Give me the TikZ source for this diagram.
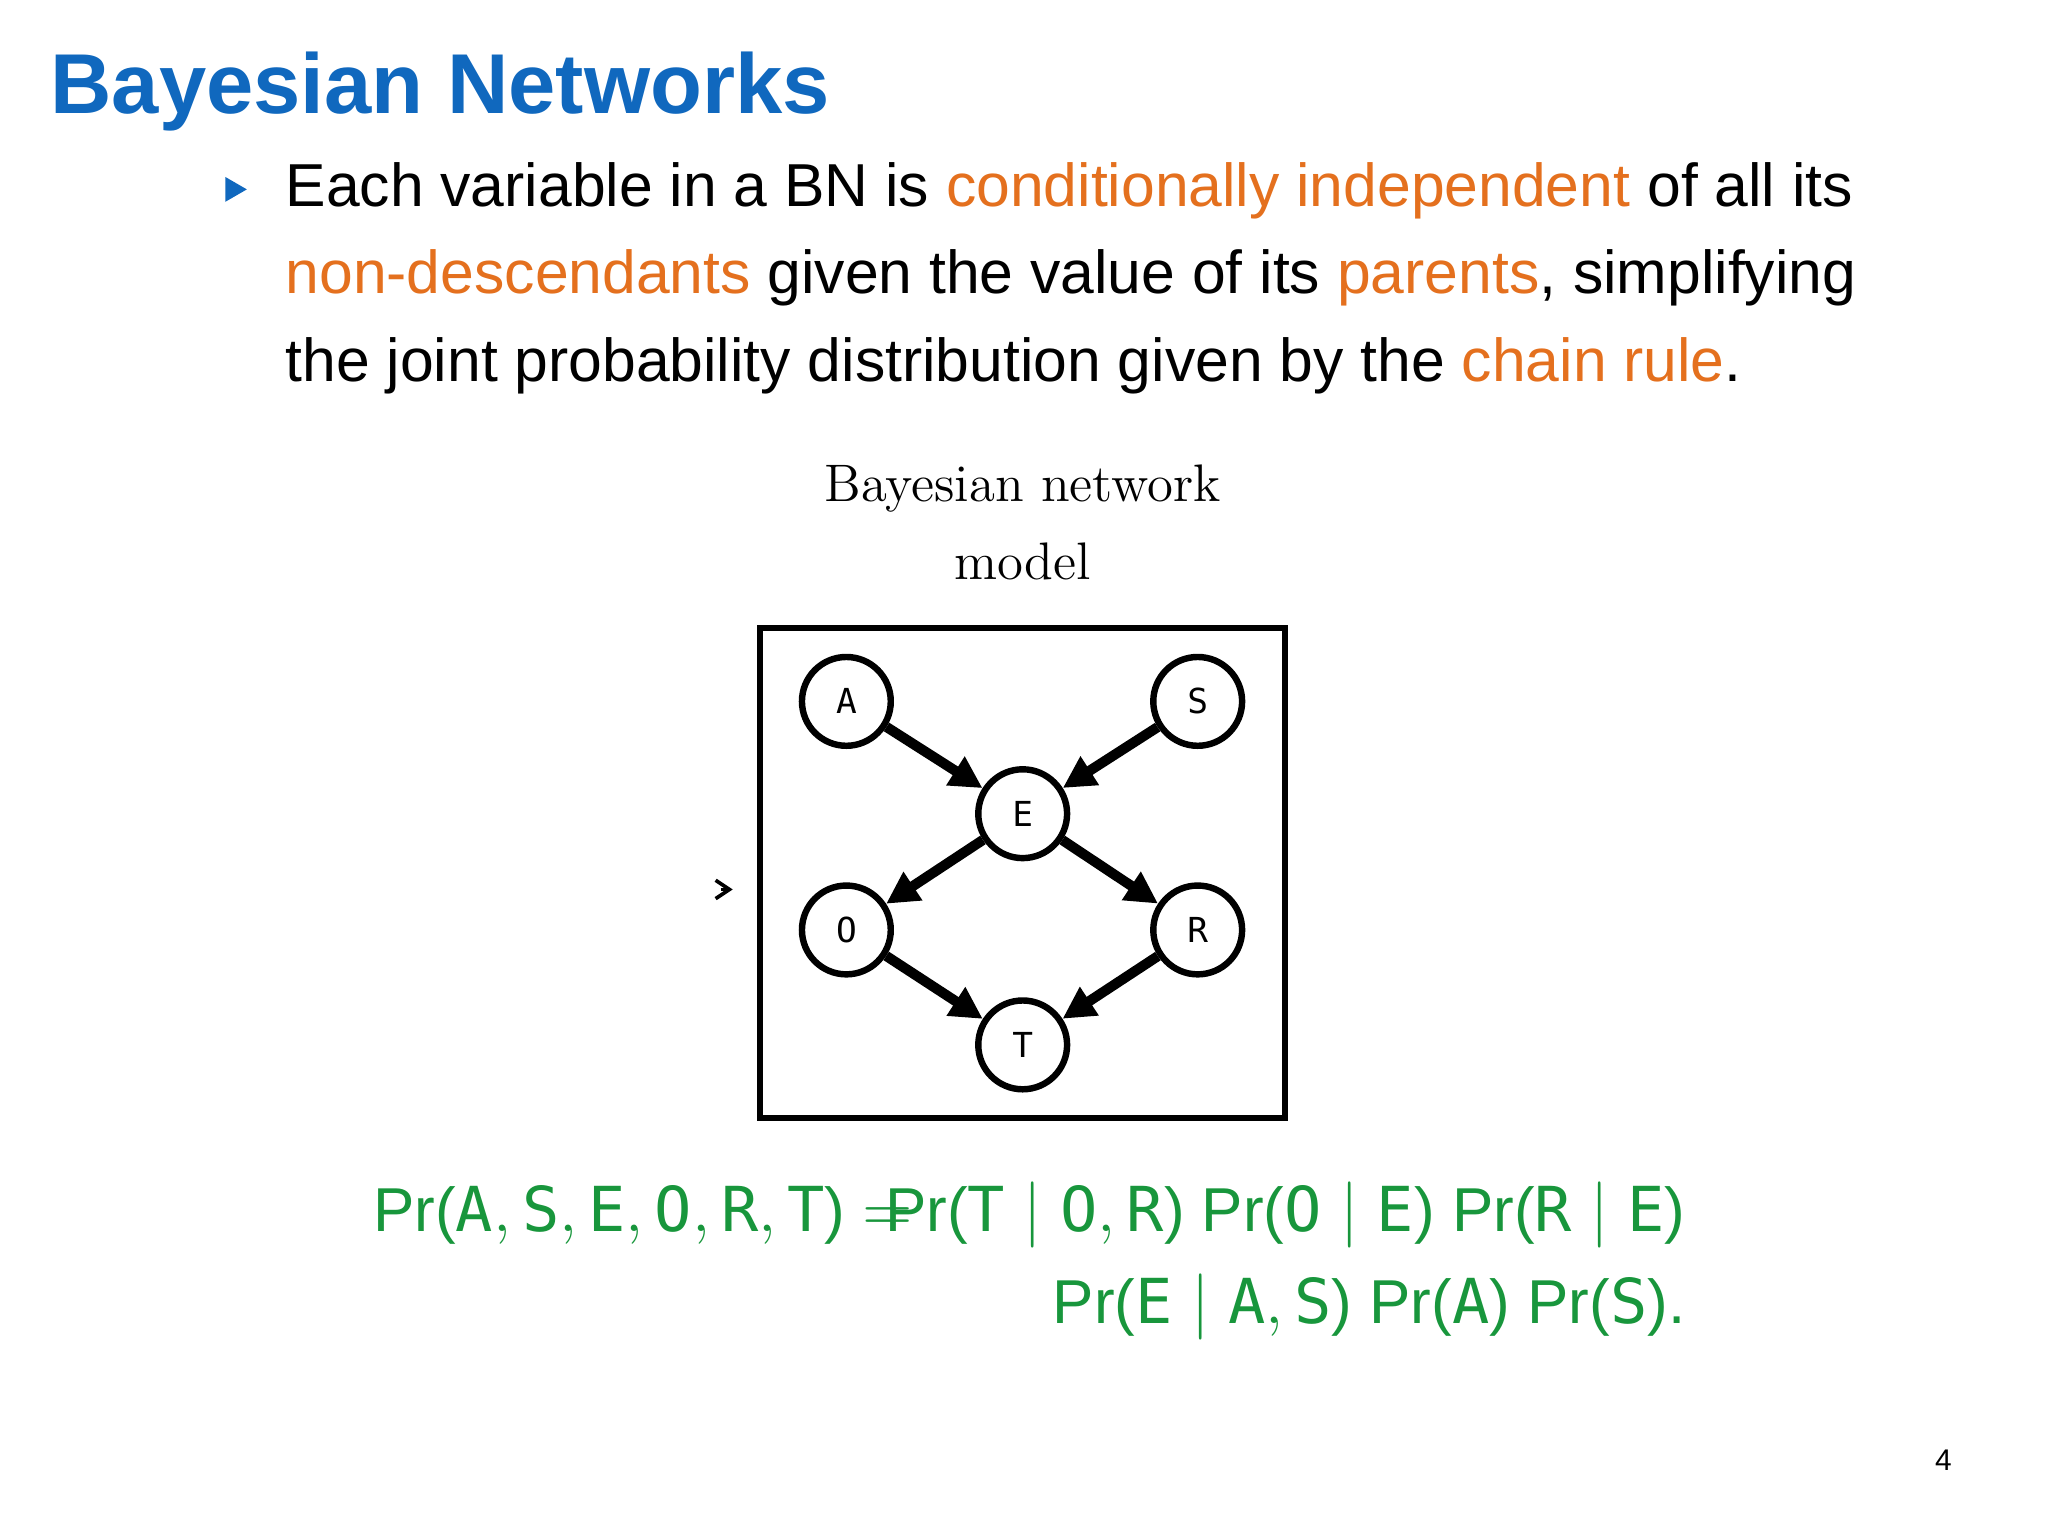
\documentclass[tikz,border=0pt]{standalone}
\usepackage{fontspec}
\setsansfont{Liberation Sans}
\setmonofont{DejaVu Sans Mono}
\usetikzlibrary{arrows.meta,shapes.geometric}
\definecolor{tblue}{RGB}{16,104,190}
\definecolor{torange}{RGB}{228,112,30}
\definecolor{tgreen}{RGB}{24,150,60}
\newlength\pu
\setlength\pu{0.01cm}
\tikzset{
 vnode/.style={circle,draw,line width=1.4pt,fill=white,minimum size=68\pu,inner sep=0pt,font=\fontsize{7.5}{9}\ttfamily},
 edge/.style={line width=2.2pt,-{Triangle[length=7pt,width=7pt]}},
 body/.style={anchor=base west,inner sep=0pt,font=\fontsize{13.2}{15}\sffamily},
 eq/.style={inner sep=0pt,text=tgreen,font=\fontsize{13.5}{16}\sffamily},
}
\newcommand\tv[1]{\texttt{#1}}
\begin{document}
\begin{tikzpicture}[x=0.01cm,y=-0.01cm]
\useasboundingbox (0,0) rectangle (1568,1176);
\node[anchor=base west,inner sep=0pt,text=tblue,font=\fontsize{18.5}{20}\sffamily\bfseries] (title) at (38,87) {Bayesian Networks};
\node[fill=tblue,regular polygon,regular polygon sides=3,shape border rotate=-90,inner sep=0pt,minimum size=22\pu] (bul) at (178,145) {};
\node[body] (l1) at (218,158) {Each variable in a BN is \textcolor{torange}{conditionally independent} of all its};
\node[body] (l2) at (218,225) {\textcolor{torange}{non-descendants} given the value of its \textcolor{torange}{parents}, simplifying};
\node[body] (l3) at (218,292) {the joint probability distribution given by the \textcolor{torange}{chain rule}.};
\node[align=center,font=\fontsize{11.5}{17}\selectfont,inner sep=0pt] (cap) at (783,400) {Bayesian network\\model};
\node[draw,line width=1.4pt,minimum width=402\pu,minimum height=375\pu,inner sep=0pt] (box) at (783,668.5) {};
\node[vnode] (A) at (648,537) {A};
\node[vnode] (S) at (917,537) {S};
\node[vnode] (E) at (783,623) {E};
\node[vnode] (O) at (648,712) {O};
\node[vnode] (R) at (917,712) {R};
\node[vnode] (T) at (783,800) {T};
\draw[edge] (A) -- (E);
\draw[edge] (S) -- (E);
\draw[edge] (E) -- (O);
\draw[edge] (E) -- (R);
\draw[edge] (O) -- (T);
\draw[edge] (R) -- (T);
\coordinate (m1) at (552,681);
\coordinate (m2) at (561,681);
\draw[-{Straight Barb[length=3pt,width=4pt]},line width=0.8pt] (m1) -- (m2);
\node[eq,anchor=base west] (e1) at (285,943) {Pr($\tv{A}, \tv{S}, \tv{E}, \tv{O}, \tv{R}, \tv{T}$) $=$};
\node[eq,anchor=base east] (e2) at (1291,943) {Pr($\tv{T} \mid \tv{O}, \tv{R}$) Pr($\tv{O} \mid \tv{E}$) Pr($\tv{R} \mid \tv{E}$)};
\node[eq,anchor=base east] (e3) at (1291,1013) {Pr($\tv{E} \mid \tv{A}, \tv{S}$) Pr($\tv{A}$) Pr($\tv{S}$).};
\node[anchor=base,inner sep=0pt,font=\fontsize{6.5}{8}\sffamily] (pg) at (1488,1126) {4};
\end{tikzpicture}
\end{document}
